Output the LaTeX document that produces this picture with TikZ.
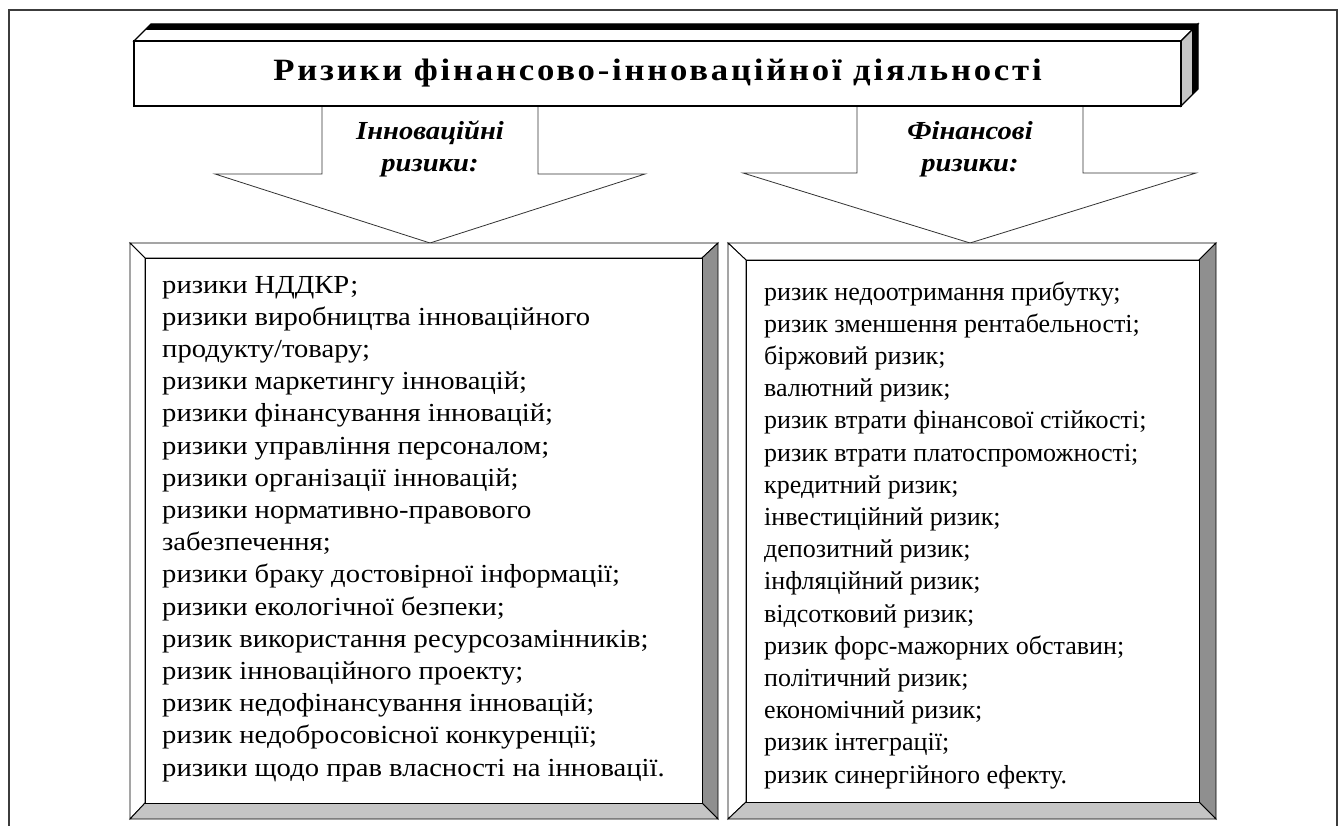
\documentclass[tikz,border=0pt]{standalone}
\usepackage{fontspec}
\setmainfont{Liberation Serif}
\newfontfamily\leftfont{Liberation Serif}[FakeStretch=1.1]
\newfontfamily\labelfont{Liberation Serif}[FakeStretch=1.1]
\newfontfamily\titlefont{Liberation Serif}[FakeStretch=1.12,LetterSpace=9]
\definecolor{darkbev}{RGB}{143,143,143}
\definecolor{lightbev}{RGB}{197,197,197}
\definecolor{framec}{RGB}{60,60,60}
\tikzset{
  listleft/.style={anchor=base west, inner sep=0pt, font=\leftfont\fontsize{26}{32}\selectfont},
  listright/.style={anchor=base west, inner sep=0pt, font=\fontsize{26}{32}\selectfont},
  arrowlabel/.style={inner sep=0pt, anchor=base, font=\labelfont\fontsize{26}{32}\selectfont\bfseries\itshape},
  bigarrow/.style={draw=black!80, line width=0.8pt, fill=white},
  bevedge/.style={draw=black, line width=0.9pt},
}
\begin{document}
\begin{tikzpicture}[x=1pt,y=-1pt,line join=miter]
\useasboundingbox (0,0) rectangle (1340,826);
% outer frame
\draw[framec, line width=2pt] (9,826) -- (9,10) -- (1337,10) -- (1337,826);
% arrows
\draw[bigarrow] (322,106) -- (322,174) -- (215,174) -- (430,243) -- (645,174) -- (538,174) -- (538,106);
\draw[bigarrow] (857,106) -- (857,173) -- (743,173) -- (970,243) -- (1196,173) -- (1083,173) -- (1083,106);
\node[arrowlabel] (al1) at (430,140) {Інноваційні};
\node[arrowlabel] (al2) at (430,172) {ризики:};
\node[arrowlabel] (ar1) at (970,140) {Фінансові};
\node[arrowlabel] (ar2) at (970,172) {ризики:};
% top 3D box
\draw[line width=1.2pt, fill=white] (134,41) -- (151,24) -- (1198,24) -- (1181,41) -- cycle;
\draw[line width=1.2pt, fill=lightbev] (1181,41) -- (1198,24) -- (1198,89) -- (1181,106) -- cycle;
\fill[black] (145.6,30) -- (151,24) -- (1198,24) -- (1192,30) -- cycle;
\fill[black] (1192,30) -- (1198,24) -- (1198,89) -- (1192,95) -- cycle;
\node[draw, line width=1.4pt, fill=white, minimum width=1047pt, minimum height=65pt, inner sep=0pt,
      font=\titlefont\fontsize{31}{35}\selectfont\bfseries] (title) at (657.5,73.5) {Ризики фінансово-інноваційної діяльності};
% left bevel box
\filldraw[bevedge, fill=white] (130,243) -- (718,243) -- (702,258) -- (145,258) -- cycle;
\filldraw[bevedge, fill=white] (130,243) -- (145,258) -- (145,803) -- (130,819) -- cycle;
\filldraw[bevedge, fill=darkbev] (718,243) -- (718,819) -- (702,803) -- (702,258) -- cycle;
\filldraw[bevedge, fill=lightbev] (130,819) -- (145,803) -- (702,803) -- (718,819) -- cycle;
\draw[bevedge, fill=white] (145,258) rectangle (702,803);
% right bevel box
\filldraw[bevedge, fill=white] (728,243) -- (1216,243) -- (1199,260) -- (746,260) -- cycle;
\filldraw[bevedge, fill=white] (728,243) -- (746,260) -- (746,802) -- (728,819) -- cycle;
\filldraw[bevedge, fill=darkbev] (1216,243) -- (1216,819) -- (1199,802) -- (1199,260) -- cycle;
\filldraw[bevedge, fill=lightbev] (728,819) -- (746,802) -- (1199,802) -- (1216,819) -- cycle;
\draw[bevedge, fill=white] (746,260) rectangle (1199,802);
% left list
\foreach \t [count=\i] in {
  ризики НДДКР;,
  ризики виробництва інноваційного,
  продукту/товару;,
  ризики маркетингу інновацій;,
  ризики фінансування інновацій;,
  ризики управління персоналом;,
  ризики організації інновацій;,
  ризики нормативно-правового,
  забезпечення;,
  ризики браку достовірної інформації;,
  ризики екологічної безпеки;,
  ризик використання ресурсозамінників;,
  ризик інноваційного проекту;,
  ризик недофінансування інновацій;,
  ризик недобросовісної конкуренції;,
  ризики щодо прав власності на інновації.}
  \node[listleft] (L\i) at (162,{293+32.2*(\i-1)}) {\t};
% right list
\foreach \t [count=\i] in {
  ризик недоотримання прибутку;,
  ризик зменшення рентабельності;,
  біржовий ризик;,
  валютний ризик;,
  ризик втрати фінансової стійкості;,
  ризик втрати платоспроможності;,
  кредитний ризик;,
  інвестиційний ризик;,
  депозитний ризик;,
  інфляційний ризик;,
  відсотковий ризик;,
  ризик форс-мажорних обставин;,
  політичний ризик;,
  економічний ризик;,
  ризик інтеграції;,
  ризик синергійного ефекту.}
  \node[listright] (R\i) at (764,{300+32.2*(\i-1)}) {\t};
\end{tikzpicture}
\end{document}
